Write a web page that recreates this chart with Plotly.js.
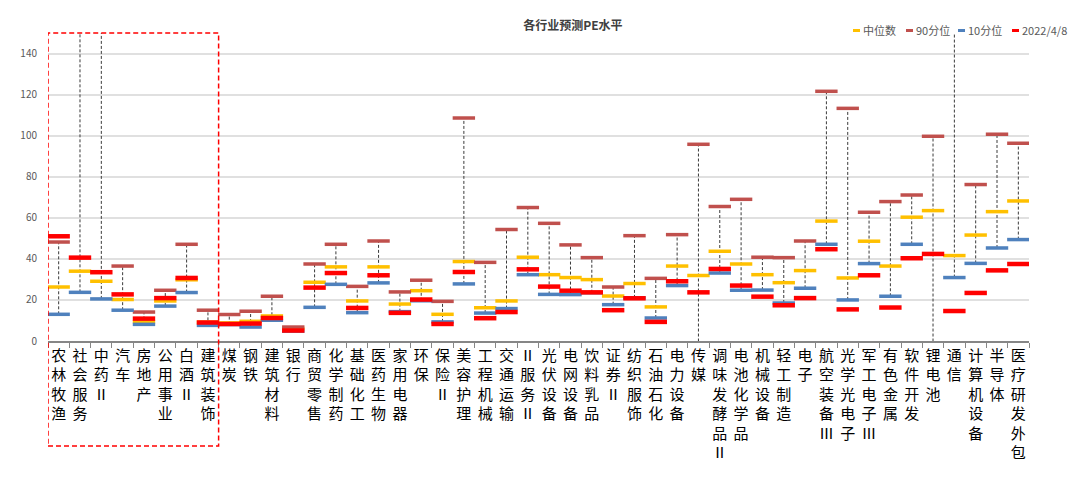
<!DOCTYPE html>
<html>
<head>
<meta charset="utf-8">
<script src="https://cdn.plot.ly/plotly-3.0.1.min.js"></script>
<style>html,body{margin:0;padding:0;background:#fff;}#chart{width:1080px;height:478px;}</style>
</head>
<body>
<div id="chart"></div>
<script>
const categories = ["农林牧渔","社会服务","中药Ⅱ","汽车","房地产","公用事业","白酒Ⅱ","建筑装饰","煤炭","钢铁",
  "建筑材料","银行","商贸零售","化学制药","基础化工","医药生物","家用电器","环保","保险Ⅱ","美容护理",
  "工程机械","交通运输","Ⅱ服务Ⅱ","光伏设备","电网设备","饮料乳品","证券Ⅱ","纺织服饰","石油石化","电力设备",
  "传媒","调味发酵品Ⅱ","电池化学品","机械设备","轻工制造","电子","航空装备Ⅲ","光学光电子","军工电子Ⅲ","有色金属",
  "软件开发","锂电池","通信","计算机设备","半导体","医疗研发外包"];

const median = [26.3,34.0,29.1,20.2,9.3,19.5,29.8,9.2,8.8,9.6,
  12.2,6.1,28.6,36.1,19.5,36.1,18.0,24.5,13.0,38.7,
  16.2,19.5,40.8,32.3,30.9,29.9,21.9,28.0,16.6,36.5,
  31.9,43.7,37.5,32.3,28.4,34.3,58.4,30.7,48.6,36.5,
  60.3,63.5,41.6,51.6,63.0,68.2];

const p90 = [48.2,170,165,36.5,14.1,24.7,47.1,15.0,12.9,14.5,
  21.8,6.8,37.5,47.1,26.6,48.7,23.9,29.6,19.3,108.6,
  38.3,54.3,65.0,57.3,46.8,40.6,26.3,51.3,30.5,51.8,
  95.8,65.5,69.0,40.8,40.6,48.7,121.6,113.3,62.7,67.9,
  71.1,99.7,160,76.2,100.7,96.3];

const p10 = [13.0,23.7,20.5,15.0,8.1,17.0,23.6,7.6,8.0,6.8,
  10.1,4.8,16.4,27.6,13.8,28.3,14.3,19.6,9.3,27.8,
  13.6,15.8,32.3,22.7,22.6,23.5,17.7,21.0,11.2,27.0,
  -10,33.1,24.7,24.8,18.5,25.7,47.1,20.0,37.7,21.8,
  47.1,-10,30.9,37.8,45.3,49.4];

const current = [51.0,40.6,33.5,22.7,10.9,20.9,30.7,9.0,8.3,8.5,
  11.2,5.1,26.0,33.1,16.1,32.0,13.7,20.2,8.3,33.6,
  11.1,14.1,34.9,26.5,24.5,23.7,15.0,20.8,9.3,29.1,
  23.7,35.1,27.0,21.6,17.4,20.9,44.7,15.4,32.0,16.3,
  40.3,42.4,14.6,23.4,34.4,37.5];

const seriesNames = ["中位数","90分位","10分位","2022/4/8"];
const seriesColors = ["#FFC000","#C0504D","#4F81BD","#FF0000"];

const tickLabels = categories.map(c => Array.from(c).join("<br>"));

// dashed range lines
const lx = [], ly = [];
categories.forEach((c, i) => { lx.push(c, c, null); ly.push(p10[i], p90[i], null); });

function bars(k, y, w) {
  return {
    type: "scatter", mode: "markers", name: seriesNames[k], x: categories, y: y,
    marker: {symbol: "line-ew", size: 16, color: seriesColors[k], line: {color: seriesColors[k], width: w}},
    hoverinfo: "x+y", showlegend: false
  };
}

const traces = [
  {type: "scatter", mode: "lines", x: lx, y: ly, showlegend: false, hoverinfo: "skip",
   line: {color: "#3a3a3a", width: 1, dash: "3px,2px"}},
  bars(0, median, 3.5),
  bars(1, p90, 3.5),
  bars(2, p10, 3.5),
  bars(3, current, 4.5)
];

// manual legend (pixel layout → paper coords)
const W = 1080, H = 478, ML = 48, MR = 51, MT = 33, MB = 137;
const PW = W - ML - MR, PH = H - MT - MB;
const px = v => (v - ML) / PW;
const py = v => (H - MB - v) / PH;
const legendX = [853, 906, 958, 1012];
const legendY = 30.5;
const shapes = [{
  type: "rect", xref: "x", yref: "paper", x0: -0.5, x1: 7.5, y0: py(446), y1: 1.0,
  line: {color: "#FF0000", width: 1.5, dash: "5px,3px"}, fillcolor: "rgba(0,0,0,0)"
}];
const annotations = [];
seriesNames.forEach((n, k) => {
  shapes.push({type: "line", xref: "paper", yref: "paper",
    x0: px(legendX[k]), x1: px(legendX[k] + 7), y0: py(legendY), y1: py(legendY),
    line: {color: seriesColors[k], width: 3}});
  annotations.push({xref: "paper", yref: "paper", x: px(legendX[k] + 8), y: py(legendY),
    xanchor: "left", yanchor: "middle", text: n, showarrow: false,
    font: {size: 11, color: "#595959"}});
});

const layout = {
  width: W, height: H,
  margin: {l: ML, r: MR, t: MT, b: MB, pad: 0},
  paper_bgcolor: "#fff", plot_bgcolor: "#fff",
  font: {family: "'Noto Sans CJK SC', 'Noto Sans', sans-serif", color: "#404040"},
  title: {text: "<b>各行业预测PE水平</b>", font: {size: 12, color: "#404040"},
          x: 0.535, xref: "paper", xanchor: "center", y: 0.947, yref: "container", yanchor: "middle"},
  showlegend: false,
  xaxis: {
    type: "category", tickvals: categories, ticktext: tickLabels, tickangle: 0,
    tickson: "boundaries", ticks: "outside", ticklen: 5, tickcolor: "#868686",
    showline: true, linecolor: "#868686", linewidth: 1.5, showgrid: false, zeroline: false,
    tickfont: {size: 15, color: "#000"}, range: [-0.5, categories.length - 0.5], fixedrange: true
  },
  yaxis: {
    range: [0, 150], dtick: 20, tick0: 0, showline: false, zeroline: false,
    gridcolor: "#e0e0e0", gridwidth: 2, ticks: "", ticklabelstandoff: 10,
    tickfont: {size: 10, color: "#595959"}, fixedrange: true
  },
  shapes: shapes,
  annotations: annotations
};

Plotly.newPlot("chart", traces, layout, {displayModeBar: false, staticPlot: true});
</script>
</body>
</html>
